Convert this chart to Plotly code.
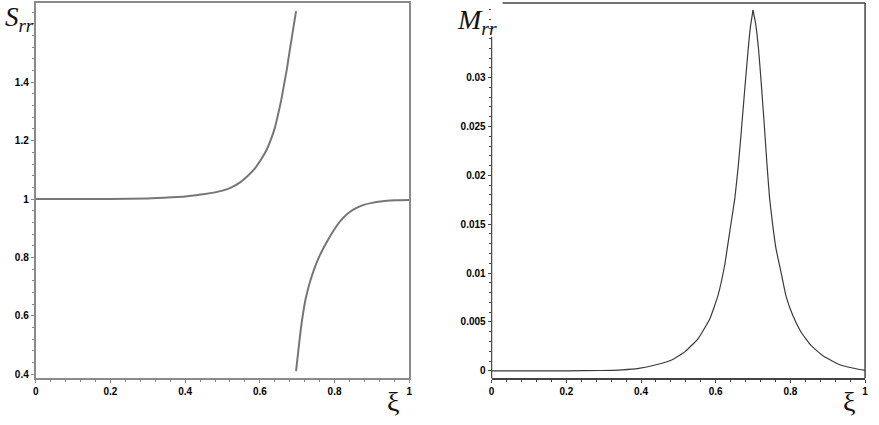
import plotly.graph_objects as go

# ---- data ----
s_upper_xi = [0.0, 0.1, 0.2, 0.3, 0.364, 0.40, 0.453, 0.50, 0.524, 0.547, 0.568, 0.587, 0.604, 0.618,
              0.630, 0.640, 0.648, 0.657, 0.666, 0.673, 0.679, 0.685, 0.690, 0.697]
s_upper_val = [1.0, 1.0, 1.0, 1.002, 1.006, 1.009, 1.017, 1.029, 1.040, 1.057, 1.080, 1.105, 1.137, 1.168,
               1.205, 1.243, 1.285, 1.337, 1.400, 1.450, 1.500, 1.548, 1.588, 1.644]
s_lower_xi = [0.697, 0.703, 0.710, 0.716, 0.723, 0.734, 0.746, 0.759, 0.772, 0.785, 0.799, 0.816,
              0.834, 0.855, 0.878, 0.900, 0.923, 0.960, 1.0]
s_lower_val = [0.411, 0.480, 0.557, 0.610, 0.660, 0.715, 0.762, 0.803, 0.836, 0.866, 0.895, 0.925,
               0.949, 0.967, 0.980, 0.987, 0.992, 0.996, 0.997]

m_xi = [0.0, 0.1, 0.2, 0.29, 0.35, 0.394, 0.438, 0.482, 0.518, 0.553, 0.584, 0.606, 0.624, 0.6375,
        0.651, 0.660, 0.667, 0.673, 0.680, 0.686, 0.693, 0.700,
        0.707, 0.715, 0.722, 0.730, 0.737, 0.744, 0.7527, 0.7615, 0.7748, 0.788, 0.806, 0.828,
        0.855, 0.890, 0.934, 0.979, 1.0]
m_val = [0.0, 0.0, 0.0, 0.00003, 0.0001, 0.00025, 0.00059, 0.0011, 0.00196, 0.0033, 0.0053, 0.0077, 0.0108, 0.0142,
         0.0176, 0.0208, 0.0238, 0.0266, 0.0298, 0.0325, 0.0352, 0.0369,
         0.0355, 0.0328, 0.0294, 0.0252, 0.0213, 0.0178, 0.0149, 0.0125, 0.0101, 0.0077, 0.0057, 0.0040,
         0.0026, 0.00145, 0.00059, 0.00018, 0.00005]

x_ticks = [0, 0.2, 0.4, 0.6, 0.8, 1]
x_ticklabels = ["0", "0.2", "0.4", "0.6", "0.8", "1"]
s_ticks = [0.4, 0.6, 0.8, 1.0, 1.2, 1.4]
s_ticklabels = ["0.4", "0.6", "0.8", "1", "1.2", "1.4"]
m_ticks = [0, 0.005, 0.01, 0.015, 0.02, 0.025, 0.03]
m_ticklabels = ["0", "0.005", "0.01", "0.015", "0.02", "0.025", "0.03"]

W, H = 879, 425
def px_x(p): return p / W
def px_y(p): return (H - p) / H
def bold(labels): return ["<b>%s</b>" % t for t in labels]

fig = go.Figure()
fig.add_trace(go.Scatter(x=s_upper_xi + [None] + s_lower_xi,
                         y=s_upper_val + [None] + s_lower_val,
                         mode="lines", line=dict(color="#767676", width=2, shape="spline", smoothing=0.6),
                         xaxis="x", yaxis="y", showlegend=False, connectgaps=False))
# the M curve has a cusp at its peak: draw each flank smoothly, meeting at the peak point
ipk = m_val.index(max(m_val))
for xs, ys in ((m_xi[:ipk + 1], m_val[:ipk + 1]), (m_xi[ipk:], m_val[ipk:])):
    fig.add_trace(go.Scatter(x=xs, y=ys, mode="lines",
                             line=dict(color="#3a3a3a", width=1.2, shape="spline", smoothing=0.4),
                             xaxis="x2", yaxis="y2", showlegend=False))

tickfont = dict(family="Liberation Sans, Arial", size=10, color="#000")
ydom = [px_y(380), px_y(3)]

common_x = dict(range=[0, 1], tickvals=x_ticks, ticktext=bold(x_ticklabels), ticks="outside", ticklen=3,
                tickfont=tickfont, showgrid=False, zeroline=False,
                minor=dict(dtick=0.04, tick0=0, ticks="outside", ticklen=2, showgrid=False))

fig.update_layout(
    width=W, height=H, margin=dict(l=0, r=0, t=0, b=0),
    paper_bgcolor="white", plot_bgcolor="white",
    xaxis=dict(domain=[px_x(33), px_x(409)], anchor="y", showline=True, linecolor="#8a8a8a", linewidth=2,
               mirror=True, tickcolor="#8a8a8a", minor_tickcolor="#8a8a8a", **common_x),
    yaxis=dict(domain=ydom, anchor="x", range=[0.3864, 1.6716], tickvals=s_ticks, ticktext=bold(s_ticklabels),
               ticks="outside", ticklen=3, tickfont=tickfont, showgrid=False, zeroline=False,
               showline=True, linecolor="#8a8a8a", linewidth=2, mirror=True, tickcolor="#8a8a8a",
               minor=dict(dtick=0.04, tick0=0.4, ticks="outside", ticklen=2, tickcolor="#8a8a8a", showgrid=False)),
    xaxis2=dict(domain=[px_x(492), px_x(868)], anchor="y2", showline=True, linecolor="#444", linewidth=1.5,
                mirror=False, tickcolor="#444", minor_tickcolor="#444", **common_x),
    yaxis2=dict(domain=ydom, anchor="x2", range=[-0.00076, 0.03764], tickvals=m_ticks, ticktext=bold(m_ticklabels),
                ticks="outside", ticklen=3, tickfont=tickfont, showgrid=False, zeroline=False,
                showline=False, tickcolor="#444",
                minor=dict(dtick=0.001, tick0=0, ticks="outside", ticklen=2, tickcolor="#444", showgrid=False)),
    shapes=[
        dict(type="line", xref="x2 domain", yref="y2 domain", x0=1, x1=1, y0=0, y1=1,
             line=dict(color="#444", width=1.5)),
        dict(type="line", xref="x2 domain", yref="y2 domain", x0=(503 - 492) / 376, x1=1, y0=1, y1=1,
             line=dict(color="#444", width=1.5)),
        dict(type="line", xref="x2 domain", yref="y2 domain", x0=0, x1=0, y0=0, y1=(380 - 37) / 377,
             line=dict(color="#444", width=1.2)),
    ],
    annotations=[
        dict(text="<i>S</i><sub><i>rr</i></sub>", xref="paper", yref="paper", x=px_x(0), y=px_y(0),
             xanchor="left", yanchor="top", showarrow=False,
             font=dict(family="Liberation Serif, Times New Roman", size=27, color="#111")),
        dict(text="<i>M</i><sub><i>rr</i></sub>", xref="paper", yref="paper", x=px_x(455), y=px_y(2),
             xanchor="left", yanchor="top", showarrow=False,
             font=dict(family="Liberation Serif, Times New Roman", size=28, color="#111")),
        dict(text="ξ", xref="paper", yref="paper", x=px_x(393), y=px_y(403),
             xanchor="center", yanchor="middle", showarrow=False,
             font=dict(family="Liberation Serif, Times New Roman", size=28, color="#111")),
        dict(text="ξ", xref="paper", yref="paper", x=px_x(852), y=px_y(403),
             xanchor="center", yanchor="middle", showarrow=False,
             font=dict(family="Liberation Serif, Times New Roman", size=28, color="#111")),
    ],
)

fig.write_html("out.html", config={"displayModeBar": False},
               post_script="document.body.style.margin='0';document.body.style.overflow='hidden';")
